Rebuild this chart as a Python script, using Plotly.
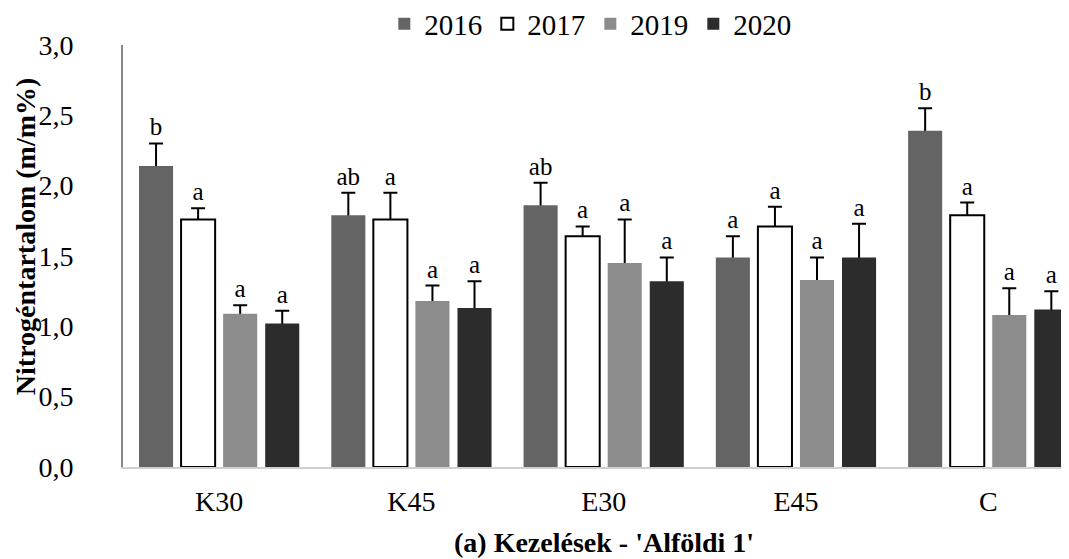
import plotly.graph_objects as go

categories = ["K30", "K45", "E30", "E45", "C"]
years = ["2016", "2017", "2019", "2020"]

v2016 = [2.14, 1.79, 1.86, 1.49, 2.39]
v2017 = [1.76, 1.76, 1.64, 1.71, 1.79]
v2019 = [1.09, 1.18, 1.45, 1.33, 1.08]
v2020 = [1.02, 1.13, 1.32, 1.49, 1.12]

e2016 = [0.16, 0.16, 0.16, 0.15, 0.16]
e2017 = [0.08, 0.19, 0.07, 0.14, 0.09]
e2019 = [0.06, 0.11, 0.31, 0.16, 0.19]
e2020 = [0.09, 0.19, 0.17, 0.24, 0.13]

l2016 = ["b", "ab", "ab", "a", "b"]
l2017 = ["a", "a", "a", "a", "a"]
l2019 = ["a", "a", "a", "a", "a"]
l2020 = ["a", "a", "a", "a", "a"]

values = [v2016, v2017, v2019, v2020]
errors = [e2016, e2017, e2019, e2020]
letters = [l2016, l2017, l2019, l2020]
fills = ["#646464", "#ffffff", "#8c8c8c", "#2c2c2c"]
lines = ["#646464", "#000000", "#8c8c8c", "#2c2c2c"]
lwidth = [0, 2, 0, 0]

FONT = "Liberation Serif, Times New Roman, serif"
HIDE = 0.03  # lower error-bar cap is tucked under the bar

fig = go.Figure()
# error bars first (drawn underneath the real bars so the lower cap is hidden)
for i, yr in enumerate(years):
    fig.add_trace(go.Bar(
        x=categories, y=[v - HIDE for v in values[i]], offsetgroup=str(i),
        showlegend=False, hoverinfo="skip",
        marker=dict(color="rgba(0,0,0,0)", line=dict(width=0)),
        error_y=dict(type="data", symmetric=False,
                     array=[e + HIDE for e in errors[i]],
                     arrayminus=[0] * len(categories), color="#000000",
                     thickness=2, width=7),
    ))
for i, yr in enumerate(years):
    fig.add_trace(go.Bar(
        x=categories, y=values[i], name=yr, offsetgroup=str(i),
        marker=dict(color=fills[i], line=dict(color=lines[i], width=lwidth[i])),
    ))
for i, yr in enumerate(years):
    tops = [v + e for v, e in zip(values[i], errors[i])]
    fig.add_trace(go.Bar(
        x=categories, y=tops, offsetgroup=str(i), showlegend=False,
        marker=dict(color="rgba(0,0,0,0)", line=dict(width=0)),
        text=letters[i], textposition="outside", cliponaxis=False,
        textfont=dict(family=FONT, size=25, color="#000000"),
        hoverinfo="skip",
    ))

fig.update_layout(
    width=1061, height=551,
    margin=dict(l=115, r=0, t=37, b=92, autoexpand=False),
    paper_bgcolor="white", plot_bgcolor="white",
    barmode="group", bargap=0.125, bargroupgap=0.19,
    separators=",.",
    font=dict(family=FONT, size=28, color="#000000"),
    legend=dict(orientation="h", x=0.494, xanchor="center", y=1.05, yanchor="middle",
                yref="paper", font=dict(family=FONT, size=29),
                itemwidth=30, traceorder="normal"),
    showlegend=True,
)
fig.update_xaxes(range=[-0.5, 4.42], showline=True, linecolor="#d0d0d0", linewidth=2,
                 ticks="", showgrid=False, ticklabelstandoff=8, automargin=False,
                 tickfont=dict(family=FONT, size=28))
fig.update_yaxes(range=[0, 3.0], dtick=0.5, tickformat=".1f", showline=True,
                 linecolor="#888888", linewidth=2, ticks="", showgrid=False,
                 zeroline=False, ticklabelstandoff=42, automargin=False,
                 tickfont=dict(family=FONT, size=28))

fig.add_annotation(text="<b>Nitrogéntartalom (m/m%)</b>", textangle=-90,
                   xref="paper", yref="paper", x=0, y=0.547, xshift=-98,
                   xanchor="center", yanchor="middle", showarrow=False,
                   font=dict(family=FONT, size=28))
fig.add_annotation(text="<b>(a) Kezelések - 'Alföldi 1'</b>",
                   xref="x", yref="paper", x=2, y=0, yshift=-75,
                   xanchor="center", yanchor="middle", showarrow=False,
                   font=dict(family=FONT, size=28))

fig.write_html("out.html")
